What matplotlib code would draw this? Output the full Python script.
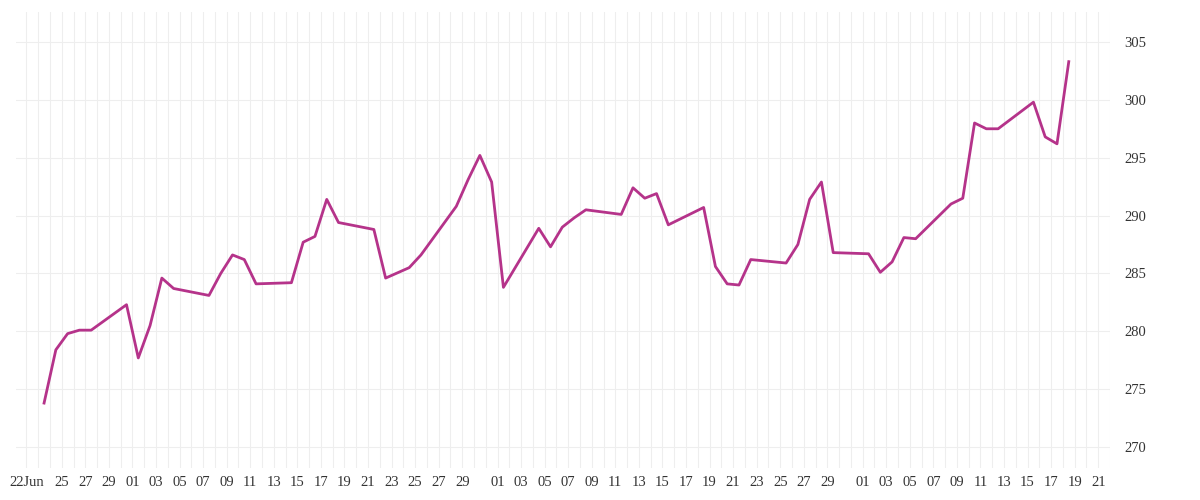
import matplotlib
matplotlib.use("Agg")
import matplotlib.pyplot as plt
import matplotlib.dates as mdates
import pandas as pd
import numpy as np

dates = ["2023-06-23","2023-06-24","2023-06-25","2023-06-26","2023-06-27","2023-06-30",
         "2023-07-01","2023-07-02","2023-07-03","2023-07-04","2023-07-07","2023-07-08","2023-07-09",
         "2023-07-10","2023-07-11","2023-07-14","2023-07-15","2023-07-16","2023-07-17","2023-07-18",
         "2023-07-21","2023-07-22","2023-07-24","2023-07-25","2023-07-28","2023-07-29","2023-07-30",
         "2023-07-31","2023-08-01","2023-08-04","2023-08-05","2023-08-06","2023-08-07","2023-08-08",
         "2023-08-11","2023-08-12","2023-08-13","2023-08-14","2023-08-15","2023-08-18","2023-08-19",
         "2023-08-20","2023-08-21","2023-08-22","2023-08-25","2023-08-26","2023-08-27","2023-08-28",
         "2023-08-29","2023-09-01","2023-09-02","2023-09-03","2023-09-04","2023-09-05","2023-09-08",
         "2023-09-09","2023-09-10","2023-09-11","2023-09-12","2023-09-15","2023-09-16","2023-09-17",
         "2023-09-18"]
values = [273.8,278.4,279.8,280.1,280.1,282.3,
          277.7,280.5,284.6,283.7,283.1,285.0,286.6,
          286.2,284.1,284.2,287.7,288.2,291.4,289.4,
          288.8,284.6,285.5,286.6,290.8,293.1,295.2,
          292.9,283.8,288.9,287.3,289.0,289.8,290.5,
          290.1,292.4,291.5,291.9,289.2,290.7,285.6,
          284.1,284.0,286.2,285.9,287.5,291.4,292.9,
          286.8,286.7,285.1,286.0,288.1,288.0,291.0,
          291.5,298.0,297.5,297.5,299.8,296.8,296.2,
          303.3]
tick_dates = ["2023-06-22","2023-06-25","2023-06-27","2023-06-29"] + \
    [f"2023-07-{d:02d}" for d in range(1, 30, 2)] + \
    [f"2023-08-{d:02d}" for d in range(1, 30, 2)] + \
    [f"2023-09-{d:02d}" for d in range(1, 22, 2)]
yticks = [270, 275, 280, 285, 290, 295, 300, 305]

x = pd.to_datetime(dates) + pd.Timedelta(hours=12)
tk = pd.to_datetime(tick_dates)
labels = ["22Jun" if i == 0 else t.strftime("%d") for i, t in enumerate(tk)]

fig = plt.figure(figsize=(12, 5), dpi=100)
ax = fig.add_axes([0.013, 0.064, 0.912, 0.912])
ax.plot(x, values, color="#B5338A", lw=2.0, zorder=3)

ax.set_xlim(pd.Timestamp("2023-06-21 02:00"), pd.Timestamp("2023-09-22 00:00"))
ax.set_ylim(268.19, 307.59)
ax.set_xticks(tk)
ax.set_xticklabels(labels)
ax.xaxis.set_minor_locator(mdates.DayLocator())
ax.set_yticks(yticks)
ax.yaxis.tick_right()
ax.grid(True, which="both", axis="x", color="#eeeeee", lw=0.8)
ax.grid(True, which="major", axis="y", color="#eeeeee", lw=0.8)
for s in ax.spines.values():
    s.set_visible(False)
ax.tick_params(axis="both", which="both", length=0, labelsize=10.5, colors="#333333")
ax.tick_params(axis="x", pad=6)
ax.tick_params(axis="y", pad=10)
for lab in ax.get_xticklabels() + ax.get_yticklabels():
    lab.set_family("Liberation Serif")
ax.set_axisbelow(True)
fig.savefig("out.png", dpi=100, facecolor="white")
